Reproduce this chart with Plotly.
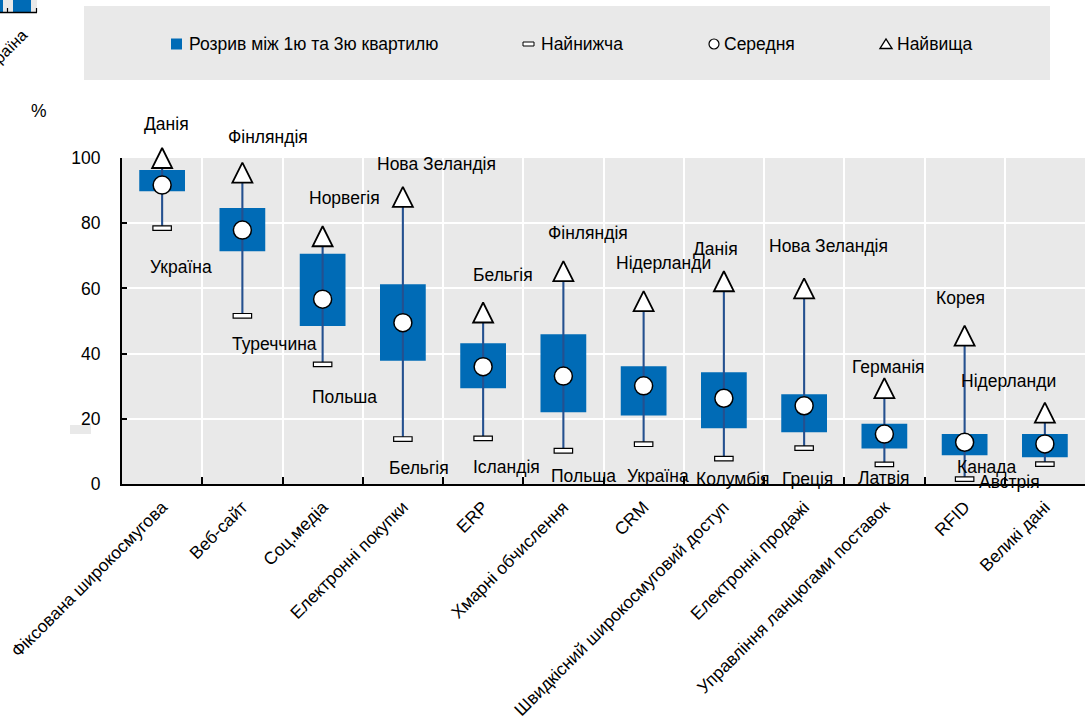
import plotly.graph_objects as go

# ---------------- data ----------------
categories = ["Фіксована широкосмугова", "Веб-сайт", "Соц.медіа", "Електронні покупки", "ERP",
              "Хмарні обчислення", "CRM", "Швидкісний широкосмуговий доступ", "Електронні продажі",
              "Управління ланцюгами поставок", "RFID", "Великі дані"]
q1 = [89.8, 71.4, 48.5, 37.8, 29.4, 22.0, 21.0, 17.1, 15.9, 10.9, 8.8, 8.2]
q3 = [96.3, 84.7, 70.6, 61.3, 43.2, 45.9, 36.1, 34.3, 27.5, 18.5, 15.3, 15.3]
mean = [91.7, 77.9, 56.7, 49.5, 36.0, 33.1, 30.1, 26.3, 24.0, 15.3, 12.8, 12.3]
lowest = [78.5, 51.6, 36.7, 13.8, 14.0, 10.2, 12.2, 7.8, 11.0, 6.0, 1.5, 6.1]
highest = [100.0, 95.5, 76.0, 88.1, 52.6, 65.3, 56.1, 62.2, 60.0, 29.4, 45.5, 21.9]
top_country = ["Данія", "Фінляндія", "Норвегія", "Нова Зеландія", "Бельгія", "Фінляндія",
               "Нідерланди", "Данія", "Нова Зеландія", "Германія", "Корея", "Нідерланди"]
bottom_country = ["Україна", "Туреччина", "Польша", "Бельгія", "Ісландія", "Польша",
                  "Україна", "Колумбія", "Греція", "Латвія", "Канада", "Австрія"]
y_ticks = [0, 20, 40, 60, 80, 100]
legend_labels = ["Розрив між 1ю та 3ю квартилю", "Найнижча", "Середня", "Найвища"]

# ---------------- label placement (x shift in px, y in axis units) ----------------
top_label_pos = [(4, 110.4), (26, 106.4), (22, 87.7), (34, 98.2), (20, 64.1), (25, 76.9),
                 (20, 67.9), (-8, 72.0), (24, 73.0), (4, 36.0), (-4, 57.2), (-36, 31.7)]
bottom_label_pos = [(19, 66.7), (32, 42.8), (22, 26.8), (16, 5.0), (23, 5.3), (20, 2.5),
                    (14, 2.5), (9, 1.4), (3, 1.5), (0, 1.7), (22, 5.3), (-35, 0.7)]

# ---------------- styles ----------------
FONT = "Liberation Sans, Arial, sans-serif"
FS = 17.5
BLUE = "#006BB6"
NAVY = "#24508F"
BG = "#E9E9E9"
W, H = 1085, 728
L, R, T, B = 122, 0, 158, 244
PW, PH = W - L - R, H - T - B


def px_x(px):
    return (px - L) / PW


def px_y(py):
    return (H - B - py) / PH


fig = go.Figure()

# interquartile boxes
fig.add_trace(go.Bar(x=categories, y=[b - a for a, b in zip(q1, q3)], base=q1, width=0.57,
                     marker=dict(color=BLUE, line=dict(width=0)), hoverinfo="skip"))
# whiskers (thin bars from lowest to highest)
fig.add_trace(go.Bar(x=categories, y=[h - l for l, h in zip(lowest, highest)], base=lowest,
                     width=0.026, marker=dict(color=NAVY, line=dict(width=0)), hoverinfo="skip"))
# lowest markers
MIN_H = 1.4
fig.add_trace(go.Bar(x=categories, y=[MIN_H] * len(lowest), base=[v - MIN_H / 2 for v in lowest],
                     width=0.23, marker=dict(color="white", line=dict(color="black", width=1.2)),
                     hoverinfo="skip"))
# means
fig.add_trace(go.Scatter(x=categories, y=mean, mode="markers", cliponaxis=False,
                         marker=dict(symbol="circle", size=18, color="white",
                                     line=dict(color="black", width=1.5))))
# highest
fig.add_trace(go.Scatter(x=categories, y=highest, mode="markers", cliponaxis=False,
                         marker=dict(symbol="arrow-down", angle=180, standoff=10, size=20,
                                     color="white", line=dict(color="black", width=1.8))))

annotations = []
for i, c in enumerate(categories):
    dx, yv = top_label_pos[i]
    annotations.append(dict(x=c, xref="x", y=yv / 100, yref="paper", xshift=dx, text=top_country[i],
                            showarrow=False, xanchor="center", yanchor="middle"))
    dx, yv = bottom_label_pos[i]
    annotations.append(dict(x=c, xref="x", y=yv / 100, yref="paper", xshift=dx, text=bottom_country[i],
                            showarrow=False, xanchor="center", yanchor="middle"))

# "%" unit label
annotations.append(dict(x=px_x(38.5), y=px_y(110.5), xref="paper", yref="paper", text="%",
                        showarrow=False, xanchor="center", yanchor="middle"))
# legend texts
for lbl, lx in zip(legend_labels, [187, 539, 722, 895]):
    annotations.append(dict(x=px_x(lx), y=px_y(44), xref="paper", yref="paper", text=lbl,
                            showarrow=False, xanchor="left", yanchor="middle"))
# clipped fragment of a neighbouring chart (top-left)
annotations.append(dict(x=px_x(4), y=px_y(52), xref="paper", yref="paper", text="Україна",
                        textangle=-45, showarrow=False, xanchor="center", yanchor="middle",
                        font=dict(size=16)))

shapes = [
    # legend background
    dict(type="rect", xref="paper", yref="paper", x0=px_x(84), x1=px_x(1050), y0=px_y(80), y1=px_y(6),
         fillcolor=BG, line=dict(width=0), layer="below"),
    # legend symbols
    dict(type="rect", xref="paper", yref="paper", x0=px_x(171), x1=px_x(182), y0=px_y(49.5), y1=px_y(38.5),
         fillcolor=BLUE, line=dict(width=0)),
    dict(type="rect", xref="paper", yref="paper", x0=px_x(523), x1=px_x(534), y0=px_y(46), y1=px_y(42),
         fillcolor="white", line=dict(color="black", width=1)),
    dict(type="circle", xref="paper", yref="paper", x0=px_x(709), x1=px_x(719), y0=px_y(49), y1=px_y(39),
         fillcolor="white", line=dict(color="black", width=1.2)),
    dict(type="path", xref="paper", yref="paper",
         path="M %f,%f L %f,%f L %f,%f Z" % (px_x(880), px_y(48.5), px_x(892), px_y(48.5), px_x(886), px_y(39)),
         fillcolor="white", line=dict(color="black", width=1.4)),
    # stray grey patch left of the axis
    dict(type="rect", xref="paper", yref="paper", x0=px_x(70), x1=px_x(91), y0=px_y(434), y1=px_y(425),
         fillcolor=BG, line=dict(width=0)),
    # top-left fragment of neighbouring chart
    dict(type="rect", xref="paper", yref="paper", x0=px_x(0), x1=px_x(37), y0=px_y(12), y1=px_y(0),
         fillcolor=BG, line=dict(width=0)),
    dict(type="rect", xref="paper", yref="paper", x0=px_x(13), x1=px_x(31), y0=px_y(12), y1=px_y(0),
         fillcolor=BLUE, line=dict(width=0)),
    dict(type="rect", xref="paper", yref="paper", x0=px_x(0), x1=px_x(3), y0=px_y(12), y1=px_y(0),
         fillcolor=BLUE, line=dict(width=0)),
    dict(type="line", xref="paper", yref="paper", x0=px_x(0), x1=px_x(37), y0=px_y(12.5), y1=px_y(12.5),
         line=dict(color="black", width=1.5)),
    dict(type="line", xref="paper", yref="paper", x0=px_x(36.5), x1=px_x(36.5), y0=px_y(12.5), y1=px_y(8),
         line=dict(color="black", width=1.2)),
    dict(type="line", xref="paper", yref="paper", x0=px_x(7.5), x1=px_x(7.5), y0=px_y(12.5), y1=px_y(8),
         line=dict(color="black", width=1.2)),
]

fig.update_layout(
    width=W, height=H, margin=dict(l=L, r=R, t=T, b=B, pad=0, autoexpand=False),
    plot_bgcolor=BG, paper_bgcolor="white", barmode="overlay", showlegend=False,
    font=dict(family=FONT, size=FS, color="black"),
    annotations=annotations, shapes=shapes,
    xaxis=dict(type="category", range=[-0.5, len(categories) - 0.5], tickson="boundaries",
               automargin=False,
               ticks="inside", ticklen=7, tickwidth=1.5, tickcolor="black",
               showline=True, linecolor="black", linewidth=2,
               showgrid=True, gridcolor="white", gridwidth=2,
               tickangle=-45, tickfont=dict(size=FS), ticklabelstandoff=4, fixedrange=True),
    yaxis=dict(range=[0, 100], tickvals=y_ticks, ticks="inside", ticklen=5, tickwidth=1.5,
               automargin=False,
               tickcolor="black", showline=True, linecolor="black", linewidth=2,
               showgrid=True, gridcolor="white", gridwidth=2, zeroline=False,
               ticklabelstandoff=16, tickfont=dict(size=FS), fixedrange=True),
)

fig.write_html("out.html", config={"displayModeBar": False},
               post_script="document.body.style.margin='0';document.body.style.overflow='hidden';")
